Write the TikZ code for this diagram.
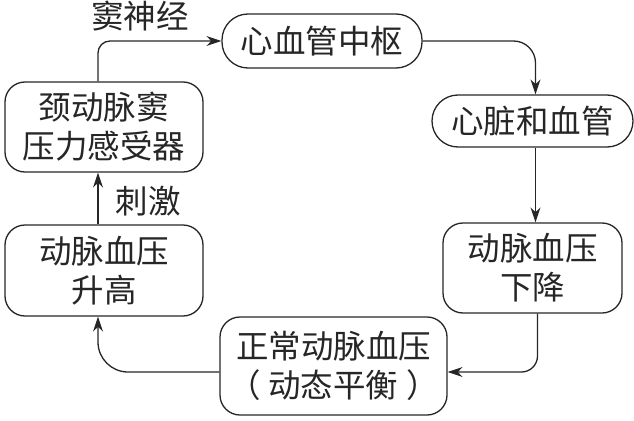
\documentclass[tikz,border=0pt]{standalone}
\usepackage{fontspec}
\setmainfont{Noto Sans CJK SC}
\usetikzlibrary{arrows.meta}
\definecolor{ink}{HTML}{262626}
\begin{document}
\begin{tikzpicture}[x=1pt,y=-1pt,
  box/.style={draw=ink, line width=1.3pt, rounded corners=20pt, align=center,
    font=\fontsize{32.5}{39}\selectfont, text=ink, inner sep=0pt},
  pill/.style={box, rounded corners=26pt},
  arr/.style={draw=ink, line width=1.3pt, -{Stealth[length=15pt,width=10pt]}},
  lbl/.style={font=\fontsize{32.5}{39}\selectfont, text=ink, inner sep=0pt}]
\useasboundingbox (0,0) rectangle (634,420);
\node[pill, minimum width=200pt, minimum height=54pt] (A) at (322,41) {心血管中枢};
\node[pill, minimum width=201pt, minimum height=52pt] (B) at (532.5,121) {心脏和血管};
\node[box, minimum width=179pt, minimum height=90pt] (C) at (532.5,268) {动脉血压\\下降};
\node[box, minimum width=227pt, minimum height=98pt] (D) at (333.5,366) {正常动脉血压\\（\hspace{8pt}动态平衡\hspace{8pt}）};
\node[box, minimum width=198pt, minimum height=91pt] (E) at (104,270.5) {动脉血压\\升高};
\node[box, minimum width=198pt, minimum height=90pt] (F) at (104,127) {颈动脉窦\\压力感受器};
\node[lbl] (L1) at (140,16) {窦神经};
\node[lbl] (L2) at (148,201) {刺激};
\draw[arr, rounded corners=12pt] ([xshift=-6pt]F.north) |- (A.west);
\draw[arr, rounded corners=22pt] (A.east) -| ([xshift=3pt]B.north);
\draw[arr] ([xshift=3pt]B.south) -- ([xshift=3pt]C.north);
\draw[arr, rounded corners=16pt] ([xshift=5pt]C.south) |- ([yshift=-6pt]D.east);
\draw[arr, rounded corners=30pt] ([yshift=-6pt]D.west) -| ([xshift=-6pt]E.south);
\draw[arr] ([xshift=-6pt]E.north) -- ([xshift=-6pt]F.south);
\end{tikzpicture}
\end{document}
